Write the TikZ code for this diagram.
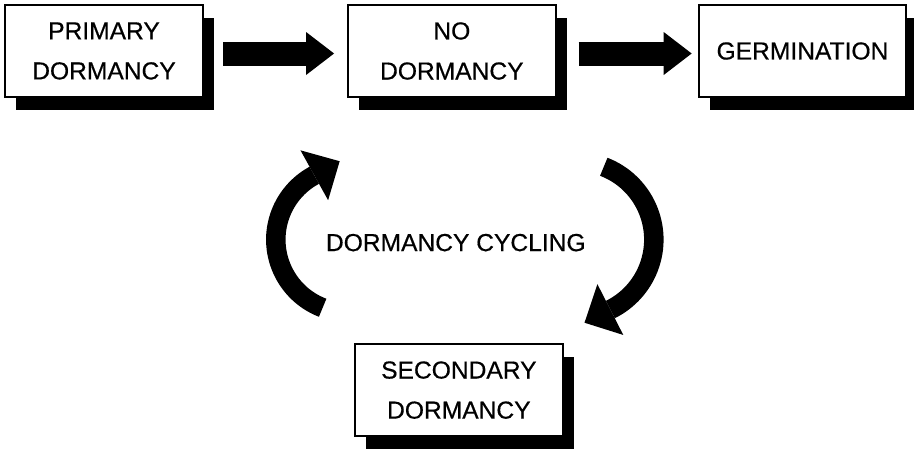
\documentclass[tikz,border=0pt]{standalone}
\usepackage{fontspec}
\setmainfont{Liberation Sans}[FakeBold=0.5]
\usepackage{tikz}
\usetikzlibrary{arrows.meta,calc,positioning,shadows}

\begin{document}
\begin{tikzpicture}[
      every node/.style = {align=center, font=\fontsize{14}{22.8}\selectfont},
      stage/.style      = {draw=black, line width=1.2pt, fill=white, minimum width=4.15cm, minimum height=1.84cm,
                           drop shadow={shadow xshift=0.22cm, shadow yshift=-0.26cm, fill=black, opacity=1}},
      blockarrow/.style = {line width=0.48cm, -{Triangle[length=0.56cm, width=0.86cm, line width=0pt]}},
      cyclearrow/.style = {line width=0.39cm, -{Triangle[length=0.58cm, width=1.14cm, line width=0pt]}}
    ]
    \useasboundingbox (0,0) rectangle (18.28,-9);

    \node (primary)   [stage, minimum width=3.96cm] at (2.08,-1.02) {PRIMARY\\DORMANCY};
    \node (nodorm)    [stage, right=2.86cm of primary]               {NO\\DORMANCY};
    \node (germ)      [stage, right=2.82cm of nodorm]                {GERMINATION};
    \node (secondary) [stage, below=4.9cm of nodorm, xshift=0.14cm]  {SECONDARY\\DORMANCY};

    \node (cycling) at ($(nodorm)!0.565!(secondary)$) {DORMANCY CYCLING};

    \coordinate (leftc)  at ([shift={(-2.14,0.06)}]cycling.center);
    \coordinate (rightc) at ([shift={(2.4,0.06)}]cycling.center);

    \draw[blockarrow, shorten <=0.38cm, shorten >=0.26cm] ([yshift=-0.05cm]primary.east) -- ([yshift=-0.05cm]nodorm.west);
    \draw[blockarrow, shorten <=0.44cm, shorten >=0.12cm] ([yshift=-0.05cm]nodorm.east)  -- ([yshift=-0.05cm]germ.west);

    \draw[cyclearrow] ($(leftc)+(249:1.46)$) arc[start angle=249, end angle=119, radius=1.46] -- ++(29:0.6);
    \draw[cyclearrow] ($(rightc)+(69:1.56)$) arc[start angle=69, end angle=-63, radius=1.56] -- ++(-153:0.6);

  \end{tikzpicture}
\end{document}
